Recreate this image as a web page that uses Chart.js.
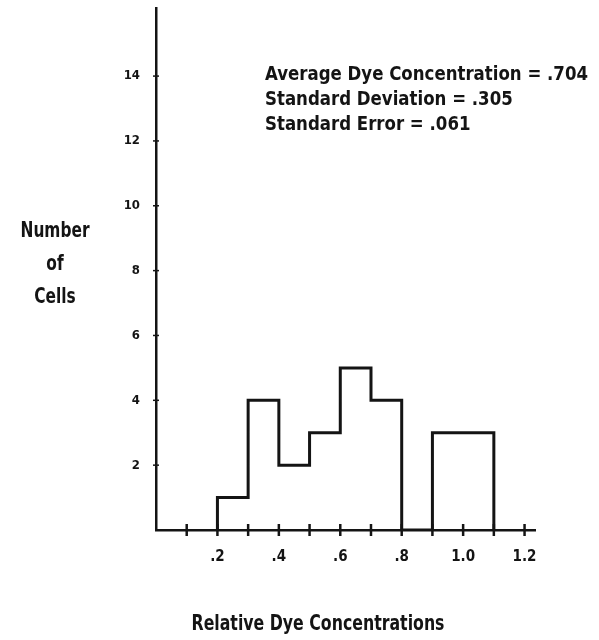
<!DOCTYPE html>
<html>
<head>
<meta charset="utf-8">
<script src="https://cdn.jsdelivr.net/npm/chart.js@4"></script>
<style>
  body { margin: 0; background: #fff; }
  #wrap { width: 599px; height: 640px; }
</style>
</head>
<body>
<div id="wrap"><canvas id="chart" width="599" height="640"></canvas></div>
<script>
// bin edges (relative dye concentration) and cell counts per bin
const binStarts = [0.2, 0.3, 0.4, 0.5, 0.6, 0.7, 0.8, 0.9, 1.0];
const binEnd = 1.1;
const counts = [1, 4, 2, 3, 5, 4, 0, 3, 3];
const xTickLabels = ['.2', '.4', '.6', '.8', '1.0', '1.2'];
const yTickLabels = ['2', '4', '6', '8', '10', '12', '14'];
const statsLines = [
    'Average Dye Concentration = .704',
    'Standard Deviation = .305',
    'Standard Error = .061'
];

const FONT = '"DejaVu Sans Condensed", "DejaVu Sans", sans-serif';
const INK = '#141414';

// outline points for a stepped line
const outline = [{ x: binStarts[0], y: 0 }];
binStarts.forEach((b, i) => outline.push({ x: b, y: counts[i] }));
outline.push({ x: binEnd, y: 0 });

// draw text squeezed horizontally by factor sx
function squeezed(ctx, text, x, y, sx, align) {
    ctx.save();
    ctx.translate(x, y);
    ctx.scale(sx, 1);
    ctx.textAlign = align;
    ctx.fillText(text, 0, 0);
    ctx.restore();
}

const crossTicks = {
    id: 'crossTicks',
    afterDraw(chart) {
        const ctx = chart.ctx;
        const xs = chart.scales.x, ys = chart.scales.y;
        ctx.save();
        ctx.strokeStyle = INK;
        ctx.lineWidth = 2.5;
        xs.ticks.forEach(t => {
            if (t.value <= 0.001) return;
            const px = xs.getPixelForValue(t.value);
            ctx.beginPath();
            ctx.moveTo(px, xs.top - 6);
            ctx.lineTo(px, xs.top + 6);
            ctx.stroke();
        });
        ctx.lineWidth = 1.5;
        ys.ticks.forEach(t => {
            const py = ys.getPixelForValue(t.value);
            ctx.beginPath();
            ctx.moveTo(ys.right - 3, py);
            ctx.lineTo(ys.right + 3, py);
            ctx.stroke();
        });

        // texts
        ctx.fillStyle = INK;
        ctx.textBaseline = 'middle';
        ctx.font = 'bold 19px ' + FONT;
        const sx = 323 / ctx.measureText(statsLines[0]).width;
        statsLines.forEach((s, i) => squeezed(ctx, s, 265, 75 + i * 25, sx, 'left'));

        ctx.font = 'bold 21px ' + FONT;
        const sl = 69 / ctx.measureText('Number').width;
        ['Number', 'of', 'Cells'].forEach((s, i) => squeezed(ctx, s, 55, 232 + i * 33, sl, 'center'));

        const title = 'Relative Dye Concentrations';
        const st = 253 / ctx.measureText(title).width;
        squeezed(ctx, title, 318, 625, st, 'center');
        ctx.restore();
    }
};

new Chart(document.getElementById('chart').getContext('2d'), {
    type: 'line',
    data: {
        datasets: [{
            data: outline,
            stepped: 'before',
            borderColor: INK,
            borderWidth: 3,
            pointRadius: 0,
            fill: false
        }]
    },
    options: {
        responsive: false,
        animation: false,
        layout: { padding: { left: 0, top: 8, right: 64, bottom: 0 } },
        plugins: { legend: { display: false }, tooltip: { enabled: false } },
        scales: {
            x: {
                type: 'linear',
                min: 0,
                max: 1.234,
                afterFit: s => {
                    s.height = 110;
                    s.paddingTop = 0; s.paddingBottom = 0; s.paddingLeft = 0; s.paddingRight = 0;
                },
                afterBuildTicks: s => {
                    s.ticks = [];
                    for (let i = 1; i <= 12; i++) s.ticks.push({ value: i / 10 });
                },
                grid: { display: true, drawOnChartArea: false, drawTicks: false },
                border: { display: true, color: INK, width: 2.5 },
                ticks: {
                    padding: 18,
                    color: INK,
                    font: { family: FONT, size: 15, weight: 'bold' },
                    autoSkip: false,
                    maxRotation: 0,
                    callback: (v) => {
                        const k = Math.round(v * 10);
                        return k % 2 === 0 ? xTickLabels[k / 2 - 1] : '';
                    }
                }
            },
            y: {
                min: 0,
                max: 16.1,
                afterFit: s => {
                    s.width = 156;
                    s.paddingTop = 0; s.paddingBottom = 0;
                },
                afterBuildTicks: s => {
                    s.ticks = yTickLabels.map(l => ({ value: Number(l) }));
                },
                grid: { display: true, drawOnChartArea: false, drawTicks: false },
                border: { display: true, color: INK, width: 2.5 },
                ticks: {
                    padding: 16,
                    color: INK,
                    font: { family: FONT, size: 13, weight: 'bold' },
                    callback: (v) => yTickLabels[v / 2 - 1]
                }
            }
        }
    },
    plugins: [crossTicks]
});
</script>
</body>
</html>
